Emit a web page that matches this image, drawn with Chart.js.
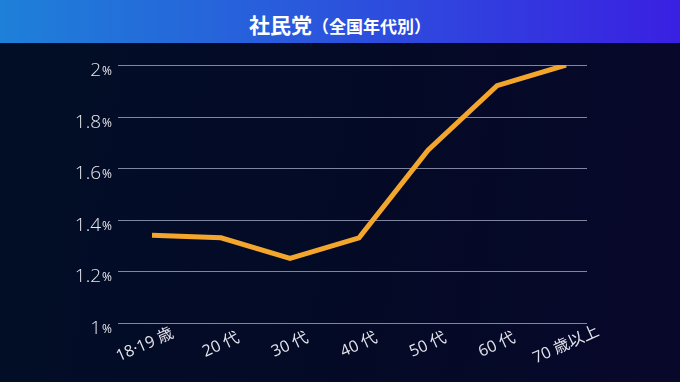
<!DOCTYPE html>
<html>
<head>
<meta charset="utf-8">
<script src="https://cdn.jsdelivr.net/npm/chart.js@4"></script>
<style>
  html, body { margin: 0; padding: 0; }
  body {
    width: 680px; height: 382px; overflow: hidden;
    background: linear-gradient(100deg, #020e26 0%, #040a26 55%, #08082b 100%);
    font-family: "Noto Sans CJK JP", "Noto Sans", sans-serif;
  }
  #header {
    height: 43px;
    background: linear-gradient(90deg, #1e80d8 0%, #2a58dc 45%, #3a20e2 100%);
    color: #fff; text-align: center; font-weight: bold;
    line-height: 48px;
  }
  #header .main { font-size: 21px; }
  #header .sub { font-size: 17px; }
  #wrap { position: relative; width: 680px; height: 339px; }
</style>
</head>
<body>
<div id="header"><span class="main">社民党</span><span class="sub">（全国年代別）</span></div>
<div id="wrap"><canvas id="chart" width="680" height="339"></canvas></div>
<script>
// -------------------------
// Data
// -------------------------
const ageGroups = ["18·19 歳", "20 代", "30 代", "40 代", "50 代", "60 代", "70 歳以上"];
const shareValues = [1.34, 1.33, 1.25, 1.33, 1.67, 1.92, 2.0];
const yTicks = [1, 1.2, 1.4, 1.6, 1.8, 2];

// -------------------------
// Grid lines + axis labels (number big, % small; x labels centred + tilted)
// -------------------------
const axisPlugin = {
  id: "axisPlugin",
  beforeDatasetsDraw(chart) {
    const { ctx, chartArea, scales } = chart;
    const y = scales.y;
    const x = scales.x;
    ctx.save();
    ctx.strokeStyle = "rgba(170,175,200,0.75)";
    ctx.lineWidth = 1;
    yTicks.forEach(v => {
      const py = Math.round(y.getPixelForValue(v)) + 0.5;
      ctx.beginPath();
      ctx.moveTo(chartArea.left - 34, py);
      ctx.lineTo(chartArea.right + 21, py);
      ctx.stroke();

      ctx.fillStyle = "#e8e8ee";
      ctx.textBaseline = "alphabetic";
      ctx.textAlign = "right";
      ctx.font = "12px 'Open Sans', 'Noto Sans', sans-serif";
      const pctW = ctx.measureText("%").width;
      ctx.fillText("%", chartArea.left - 40, py + 9);
      ctx.font = "300 19px 'Open Sans', 'Noto Sans', sans-serif";
      ctx.fillText(String(v), chartArea.left - 41 - pctW, py + 10);
    });

    ctx.fillStyle = "#e4e4ec";
    ctx.font = "16px 'Open Sans', 'Noto Sans CJK JP', sans-serif";
    ctx.textAlign = "center";
    ctx.textBaseline = "middle";
    ageGroups.forEach((label, i) => {
      ctx.save();
      ctx.translate(x.getPixelForValue(i) - (i === 0 ? 7 : 0), chartArea.bottom + 22);
      ctx.rotate(-24 * Math.PI / 180);
      ctx.fillText(label, 0, 0);
      ctx.restore();
    });
    ctx.restore();
  }
};

const ctx = document.getElementById("chart").getContext("2d");
new Chart(ctx, {
  type: "line",
  data: {
    labels: ageGroups,
    datasets: [{
      data: shareValues,
      borderColor: "#f4a62c",
      borderWidth: 5,
      pointRadius: 0,
      tension: 0,
      fill: false
    }]
  },
  options: {
    responsive: false,
    animation: false,
    layout: { padding: { left: 152, right: 114, top: 22, bottom: 0 } },
    plugins: { legend: { display: false }, tooltip: { enabled: false } },
    scales: {
      x: {
        offset: false,
        grid: { display: false },
        border: { display: false },
        ticks: { display: false },
        afterFit: s => { s.height = 59; }
      },
      y: {
        display: false,
        min: 1,
        max: 2
      }
    }
  },
  plugins: [axisPlugin]
});
</script>
</body>
</html>
